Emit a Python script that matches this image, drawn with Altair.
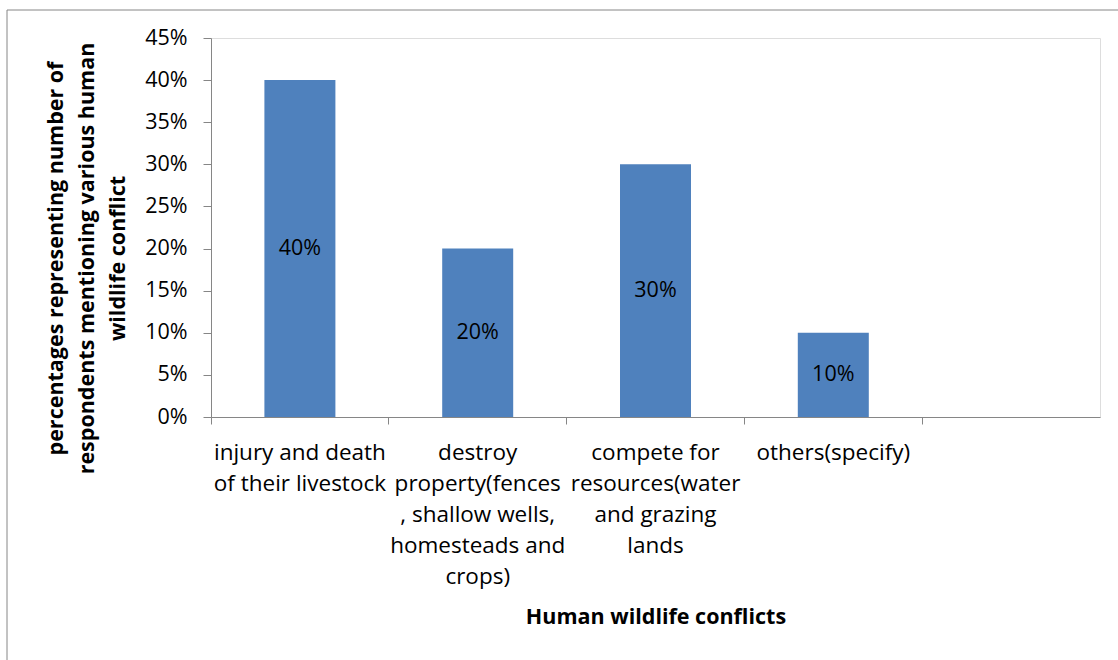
import altair as alt
import pandas as pd

# Survey responses: share of respondents naming each human-wildlife conflict
categories = [
    "injury and death of their livestock",
    "destroy property(fences , shallow wells, homesteads and crops)",
    "compete for resources(water and grazing lands",
    "others(specify)",
    " ",
]
label_lines = [
    ["injury and death", "of their livestock"],
    ["destroy", "property(fences", ", shallow wells,", "homesteads and", "crops)"],
    ["compete for", "resources(water", "and grazing", "lands"],
    ["others(specify)"],
    [""],
]
shares = [0.40, 0.20, 0.30, 0.10, None]
y_ticks = [0, 0.05, 0.10, 0.15, 0.20, 0.25, 0.30, 0.35, 0.40, 0.45]

FONT = "Open Sans"
AXIS_GRAY = "#868686"
BAR_BLUE = "#4F81BD"

df = pd.DataFrame({"category": categories, "share": shares})

# Map each category to its wrapped label lines
label_map = "{" + ", ".join(
    f"{c!r}: {l!r}" for c, l in zip(categories, label_lines)
) + "}"
label_map = label_map.replace("'", '"')

x_enc = alt.X(
    "category:N",
    sort=categories,
    scale=alt.Scale(paddingInner=0, paddingOuter=0),
    axis=alt.Axis(
        title="Human wildlife conflicts",
        titleFont=FONT,
        titleFontSize=21.5,
        titleFontWeight="bold",
        titleColor="black",
        titleY=200,
        titleBaseline="middle",
        labelExpr=f"{label_map}[datum.value]",
        labelFont=FONT,
        labelFontSize=22.5,
        labelColor="black",
        labelAngle=0,
        labelLineHeight=31,
        labelBaseline="top",
        labelPadding=17,
        labelLimit=400,
        bandPosition=0,
        tickSize=7,
        tickColor=AXIS_GRAY,
        domainColor=AXIS_GRAY,
        grid=False,
    ),
)

y_enc = alt.Y(
    "share:Q",
    scale=alt.Scale(domain=[0, 0.45], nice=False),
    axis=alt.Axis(
        title=[
            "percentages representing number of",
            "respondents mentioning various human",
            "wildlife conflict",
        ],
        titleFont=FONT,
        titleFontSize=21.5,
        titleFontWeight="bold",
        titleColor="black",
        titleLineHeight=31,
        titleX=-144,
        titleY=220,
        titleAnchor="middle",
        values=y_ticks,
        format=".0%",
        labelFont=FONT,
        labelFontSize=21.5,
        labelColor="black",
        labelPadding=16,
        tickSize=8,
        tickColor=AXIS_GRAY,
        domainColor=AXIS_GRAY,
        grid=False,
    ),
)

bars = alt.Chart(df).mark_bar(color=BAR_BLUE, size=71).encode(x=x_enc, y=y_enc)

labels = (
    alt.Chart(df)
    .transform_filter("isValid(datum.share)")
    .transform_calculate(mid="datum.share / 2")
    .mark_text(font=FONT, fontSize=21.5, color="black", baseline="middle")
    .encode(
        x=alt.X("category:N", sort=categories),
        y=alt.Y("mid:Q"),
        text=alt.Text("share:Q", format=".0%"),
    )
)

# Outer chart-area frame
frame = (
    alt.Chart(pd.DataFrame({"k": [0]}))
    .mark_rect(fill=None, stroke=AXIS_GRAY, strokeWidth=1)
    .encode(
        x=alt.value(-204),
        x2=alt.value(930),
        y=alt.value(-28),
        y2=alt.value(650),
    )
)

chart = (
    alt.layer(frame, bars, labels)
    .properties(
        width=889,
        height=379,
        autosize=alt.AutoSizeParams(type="none"),
        padding={"left": 211, "top": 38, "right": 18, "bottom": 243},
    )
    .configure_view(stroke=None)
    .configure(background="white")
)

chart.save("out.html", embed_options={"renderer": "svg", "actions": False})
